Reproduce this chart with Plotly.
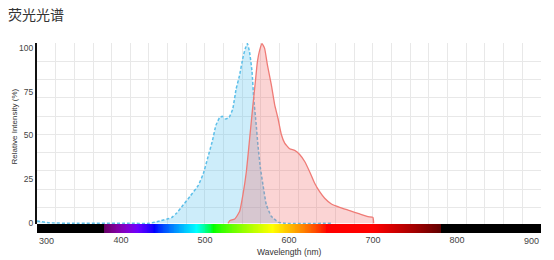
import plotly.graph_objects as go

# ---------------- data ----------------
EX_WL = [300, 315, 342, 410, 434, 446, 460, 466, 474, 482, 492, 498, 503.6, 509, 513,
         517.5, 520.7, 524.6, 528.6, 533, 537, 541, 545, 548, 550.5, 553, 556, 558,
         561, 563, 566, 569, 573, 579, 587, 595, 651]
EX_VAL = [1.3, 0.3, 0, 0, 0, 1.3, 3.2, 5.7, 10.4, 15.2, 21.6, 28.3, 37.8, 47.3, 55.8,
          60.2, 60.9, 59.4, 60.2, 65, 76.3, 83.9, 93.9, 99.6, 102.3, 97.7, 86.4, 71.2,
          56, 44.7, 31.4, 22, 10.6, 4, 0.7, 0, 0]

EM_WL = [527.4, 529.4, 535.4, 541.3, 545.2, 549.3, 553.2, 557.1, 560, 562.4, 565.1,
         567.9, 571, 574.3, 579, 583, 586.9, 591, 594.9, 600.8, 606.8, 612.7, 618.7,
         624.6, 630.6, 636.5, 642.5, 650.5, 660.4, 672.3, 684.2, 694, 700, 700.8]
EM_VAL = [0, 1.5, 2.4, 6.8, 16.3, 29.5, 48.4, 67.4, 80.7, 92, 98.6, 102.3, 99.6, 90.2,
          78.8, 67.4, 59.8, 50.4, 45.6, 42.4, 41.5, 39.2, 35.2, 29.4, 22.8, 18, 14.3,
          11, 9.1, 7.2, 5.3, 3.8, 3.4, 0]

X_TICKS = [300, 400, 500, 600, 700, 800, 900]
X_TICK_TEXT = ["300", "400", "500", "600", "700", "800", "900"]
Y_TICKS = [0, 25, 50, 75, 100]
Y_TICK_TEXT = ["0", "25", "50", "75", "100"]

TITLE = "荧光光谱"
X_TITLE = "Wavelength (nm)"
Y_TITLE = "Relative Intensity (%)"

# ------------- spectrum colours (style) -------------
def wl_rgb(w):
    if w < 380 or w > 780:
        return (0, 0, 0)
    if w < 440:
        r, g, b = -(w - 440) / 60, 0, 1
    elif w < 490:
        r, g, b = 0, (w - 440) / 50, 1
    elif w < 510:
        r, g, b = 0, 1, -(w - 510) / 20
    elif w < 580:
        r, g, b = (w - 510) / 70, 1, 0
    elif w < 645:
        r, g, b = 1, -(w - 645) / 65, 0
    else:
        r, g, b = 1, 0, 0
    if w < 420:
        f = 0.3 + 0.7 * (w - 380) / 40
    elif w > 700:
        f = 0.3 + 0.7 * (780 - w) / 80
    else:
        f = 1.0
    def c(v):
        return int(round(255 * (v * f) ** 0.8)) if v > 0 else 0
    return (c(r), c(g), c(b))

bar_x = list(range(300, 901))
cs = []
n = len(bar_x)
for i, w in enumerate(bar_x):
    r, g, b = wl_rgb(w)
    cs.append([i / (n - 1), f"rgb({r},{g},{b})"])

FONT = "Liberation Sans, Arial, sans-serif"
TXT = "#444444"
GRID = "#e8e8e8"

fig = go.Figure()

fig.add_trace(go.Scatter(
    x=EX_WL, y=EX_VAL, mode="lines", fill="tozeroy",
    line=dict(color="#5cbfe9", width=1.5, dash="3px,2px", shape="spline", smoothing=0.4),
    fillcolor="rgba(100,200,240,0.32)", hoverinfo="skip", showlegend=False,
    xaxis="x", yaxis="y"))
fig.add_trace(go.Scatter(
    x=EM_WL, y=EM_VAL, mode="lines", fill="tozeroy",
    line=dict(color="#ef7b76", width=1.3, shape="spline", smoothing=0.4),
    fillcolor="rgba(240,100,100,0.28)", hoverinfo="skip", showlegend=False,
    xaxis="x", yaxis="y"))

fig.add_trace(go.Heatmap(
    x=bar_x, y=[0], z=[bar_x], colorscale=cs, showscale=False,
    zmin=300, zmax=900, hoverinfo="skip", xaxis="x", yaxis="y2"))

PH = 190.0
bar_frac = 9 / PH

fig.update_layout(
    width=554, height=260,
    margin=dict(l=37, r=13, t=43, b=27, autoexpand=False),
    paper_bgcolor="white", plot_bgcolor="white",
    font=dict(family=FONT, color=TXT, size=9),
    xaxis=dict(
        range=[300, 900.05], anchor="y2", automargin=False,
        tickvals=X_TICKS, ticktext=["", "400", "500", "600", "700", "800", ""],
        showgrid=False, zeroline=False, showline=False, ticks="",
        tickfont=dict(size=9, family=FONT, color=TXT),
        minor=dict(tick0=300, dtick=600 / 27, showgrid=True, gridcolor=GRID,
                   gridwidth=1, ticks=""),
    ),
    yaxis=dict(
        domain=[bar_frac, 1], range=[-0.4, 102.65], anchor="x", automargin=False,
        tickvals=Y_TICKS, ticktext=Y_TICK_TEXT,
        showgrid=False, zeroline=False, ticks="",
        showline=True, linecolor="#111", linewidth=2,
        tickfont=dict(size=8.5, family=FONT, color=TXT),
        minor=dict(tick0=50.6, dtick=10.4, showgrid=True, gridcolor=GRID,
                   gridwidth=1, ticks=""),
    ),
    yaxis2=dict(
        domain=[0, bar_frac], anchor="x", range=[-0.5, 0.5], automargin=False,
        showticklabels=False, showgrid=False, zeroline=False, ticks="",
    ),
    title=dict(text=TITLE, x=8 / 554, xref="container", xanchor="left",
               y=1 - 15 / 260, yref="container", yanchor="middle",
               font=dict(size=14, family="Noto Sans CJK SC", color="#333")),
)

# end tick labels kept inside the plot edges
fig.add_annotation(x=X_TICKS[0], y=0, xref="x", yref="paper", text=X_TICK_TEXT[0],
                   xanchor="left", yanchor="top", yshift=-1, showarrow=False,
                   font=dict(size=9, family=FONT, color=TXT))
fig.add_annotation(x=X_TICKS[-1], y=0, xref="x", yref="paper", text=X_TICK_TEXT[-1],
                   xanchor="right", yanchor="top", yshift=-1, showarrow=False,
                   font=dict(size=9, family=FONT, color=TXT))

fig.add_annotation(x=0.5, y=0, xref="paper", yref="paper", text=X_TITLE,
                   showarrow=False, xanchor="center", yanchor="top", yshift=-12,
                   font=dict(size=8.5, family=FONT, color="#333"))

fig.add_annotation(x=-0.044, y=0.56, xref="paper", yref="paper", text=Y_TITLE,
                   textangle=-90, showarrow=False, xanchor="center", yanchor="middle",
                   font=dict(size=8, family=FONT, color="#333"))

fig.write_html("out.html")
